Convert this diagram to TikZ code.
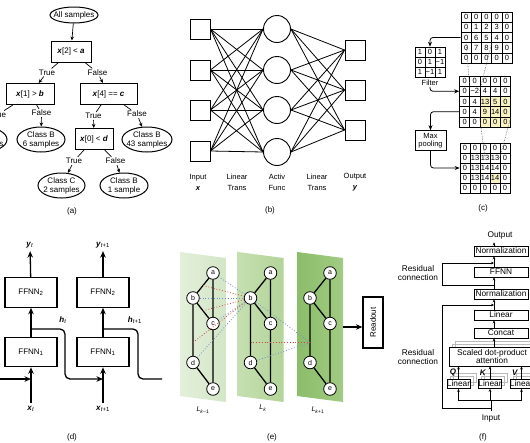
\documentclass[tikz,border=0pt]{standalone}
\usepackage{fontspec}
\setmainfont{Liberation Sans}
\usetikzlibrary{shapes.geometric,arrows.meta,calc}

\newcommand{\bvar}[1]{\textbf{\textit{#1}}}
\definecolor{poolyellow}{HTML}{F8F2C2}
\definecolor{dotred}{HTML}{C9483B}
\definecolor{dotblue}{HTML}{6C8FD2}
\definecolor{layerAl}{HTML}{E3EFDA}
\definecolor{layerAr}{HTML}{D3E6C6}
\definecolor{layerBl}{HTML}{C6DFB1}
\definecolor{layerBr}{HTML}{B3D499}
\definecolor{layerCl}{HTML}{8BBD69}
\definecolor{layerCr}{HTML}{A2CB83}

\begin{document}
\begin{tikzpicture}[x=1pt,y=-1pt,
  every node/.style={font=\fontsize{8}{9}\selectfont},
  leafnode/.style={ellipse,draw,line width=1pt,align=center,inner xsep=-6pt,inner ysep=-1pt,minimum width=48,minimum height=25},
  condbox/.style={rectangle,draw,line width=1pt,minimum height=21,inner sep=1pt},
  lab/.style={inner sep=1pt},
  tarr/.style={-{Stealth[length=4pt,width=3.5pt]},line width=0.7pt},
  sqnode/.style={rectangle,draw,line width=0.9pt,minimum size=20},
  neuron/.style={circle,draw,line width=0.9pt,minimum size=27},
  axlab/.style={align=center,font=\fontsize{7.5}{11}\selectfont},
  gridcell/.style={rectangle,draw,line width=0.6pt,minimum size=10.2,inner sep=0pt,font=\fontsize{7.5}{8}\selectfont},
  carr/.style={-{Stealth[length=5pt,width=4pt]},line width=0.8pt,rounded corners=3},
  simlink/.style={densely dotted,line width=0.6pt,gray!70!black},
  ffnn/.style={rectangle,draw,line width=1.2pt,minimum width=52,minimum height=29.5},
  rarr/.style={-{Stealth[length=6.5pt,width=5.5pt]},line width=1.3pt},
  gnode/.style={circle,draw,fill=white,line width=0.8pt,minimum size=12.6,inner sep=0pt,font=\fontsize{7}{8}\selectfont},
  gedge/.style={line width=1.3pt},
  dotlink/.style={dotted,line width=0.8pt},
  fbox/.style={rectangle,draw,fill=white,line width=0.6pt,minimum width=54,minimum height=10,inner sep=0pt,font=\fontsize{8.3}{9}\selectfont},
  farr/.style={-{Stealth[length=3pt,width=2.6pt]},line width=0.6pt},
  headshadow/.style={draw=gray!55,line width=0.5pt},
]
\useasboundingbox (0,0) rectangle (530,442);
\clip (0,0) rectangle (530,442);
\fill[white] (0,0) rectangle (530,442);

% (a) decision tree
\node[leafnode,minimum height=16,inner ysep=-2pt] (all) at (74,15) {All samples};
\node[condbox,minimum width=40] (t1) at (71,51.5) {\bvar{x}[2] < \bvar{a}};
\node[condbox,minimum width=48] (t2) at (30,94) {\bvar{x}[1] > \bvar{b}};
\node[condbox,minimum width=57] (t3) at (108.5,94) {\bvar{x}[4] == \bvar{c}};
\node[condbox,minimum width=38] (t4) at (94,139) {\bvar{x}[0] < \bvar{d}};
\node[leafnode] (lA) at (-17,139.5) {Class A\\19 samples};
\node[leafnode] (lB6) at (41,139.5) {Class B\\6 samples};
\node[leafnode,minimum width=50] (lB43) at (147,139.5) {Class B\\43 samples};
\node[leafnode,minimum width=47] (lC2) at (61.5,185.5) {Class C\\2 samples};
\node[leafnode] (lB1) at (124,185.5) {Class B\\1 sample};
\node[lab] (t1y) at (47,72.5) {True};
\node[lab] (t1n) at (97.5,72.5) {False};
\node[lab] (t2y) at (-2,114.5) {True};
\node[lab] (t2n) at (41.5,113) {False};
\node[lab] (t3y) at (93.5,116) {True};
\node[lab] (t3n) at (137,114) {False};
\node[lab] (t4y) at (74,161) {True};
\node[lab] (t4n) at (115.5,161) {False};
\draw[tarr] (all) -- (t1);
\foreach \p/\l/\c in {t1/t1y/t2,t1/t1n/t3,t2/t2y/lA,t2/t2n/lB6,t3/t3y/t4,t3/t3n/lB43,t4/t4y/lC2,t4/t4n/lB1}{
  \draw[line width=0.7pt] (\p) -- (\l);
  \draw[tarr] (\l) -- (\c);
}
\node (capa) at (72,211) {(a)};

% (b) feed-forward network
\foreach \i/\y in {1/29,2/70,3/110,4/151}
  \node[sqnode] (in\i) at (200,\y) {};
\foreach \i/\y in {1/29,2/70,3/110,4/152}
  \node[neuron] (hid\i) at (277,\y) {};
\foreach \i/\y in {1/50,2/90,3/130}
  \node[sqnode] (out\i) at (355,\y) {};
\foreach \i in {1,...,4}
  \foreach \j in {1,...,4}
    \draw[line width=0.8pt] (in\i.east) -- (hid\j.west);
\foreach \j in {1,...,4}
  \foreach \k in {1,...,3}
    \draw[line width=0.8pt] (hid\j.east) -- (out\k.west);
\node[axlab] (lbin) at (198,182.5) {Input\\\bvar{x}};
\node[axlab] (lblin1) at (237,182.5) {Linear\\Trans};
\node[axlab] (lbact) at (277,182.5) {Activ\\Func};
\node[axlab] (lblin2) at (317,182.5) {Linear\\Trans};
\node[axlab] (lbout) at (355,182.5) {Output\\\bvar{y}};
\node (capb) at (270,210) {(b)};

% (c) convolution and max pooling
\fill[poolyellow] (479.9,96.4) rectangle (510.5,127);
\fill[poolyellow] (490,173) rectangle (500,183);
\foreach \row [count=\r from 0] in {{0,0,0,0,0},{0,1,2,3,0},{0,6,5,4,0},{0,7,8,9,0},{0,0,0,0,0}}
  \foreach \v [count=\c from 0] in \row
    \node[gridcell] (img-\r-\c) at ({466.1+10.2*\c},{17.1+10.2*\r}) {\v};
\foreach \row [count=\r from 0] in {{1,0,1},{0,1,−1},{1,−1,1}}
  \foreach \v [count=\c from 0] in \row
    \node[gridcell,minimum size=10] (flt-\r-\c) at ({420+10*\c},{52+10*\r}) {\v};
\foreach \row [count=\r from 0] in {{0,0,0,0,0},{0,−2,4,4,0},{0,4,13,5,0},{0,4,9,14,0},{0,0,0,0,0}}
  \foreach \v [count=\c from 0] in \row
    \node[gridcell] (cnv-\r-\c) at ({464.6+10.2*\c},{81.1+10.2*\r}) {\v};
\foreach \row [count=\r from 0] in {{0,0,0,0,0},{0,13,13,13,0},{0,13,14,14,0},{0,13,14,14,0},{0,0,0,0,0}}
  \foreach \v [count=\c from 0] in \row
    \node[gridcell,minimum size=10] (mxp-\r-\c) at ({465+10*\c},{148+10*\r}) {\v};
\node[inner sep=1pt,font=\fontsize{7.5}{8}\selectfont] (fltlab) at (430,83) {Filter};
\node[draw,line width=0.7pt,align=center,inner sep=1pt,minimum width=31,minimum height=20,font=\fontsize{7.5}{8}\selectfont] (pool) at (430.5,140.5) {Max\\pooling};
\draw[carr] (img-2-0.west) -| (flt-0-1.north);
\draw[carr] (fltlab.south) |- (cnv-1-0.west);
\draw[carr] (cnv-3-0.west) -| (pool.north);
\draw[carr] (pool.south) |- (mxp-2-0.west);
\draw[simlink] (img-3-0.north) -- (cnv-1-0.east);
\draw[simlink] (img-3-2.north east) -- (cnv-1-2.west);
\draw[simlink] (cnv-3-2.south west) -- (mxp-1-2.center);
\draw[simlink] (cnv-3-4.south east) -- (mxp-1-4.west);
\node (capc) at (483,208) {(c)};

% (d) recurrent network
\node[ffnn] (f2a) at (31,292.5) {FFNN\textsubscript{2}};
\node[ffnn] (f2b) at (103,292.5) {FFNN\textsubscript{2}};
\node[ffnn] (f1a) at (31,352) {FFNN\textsubscript{1}};
\node[ffnn] (f1b) at (103,352) {FFNN\textsubscript{1}};
\node[inner sep=3pt] (ya) at (30,245) {\bvar{y}\textsubscript{\textit{t}}};
\node[inner sep=3pt] (yb) at (103,245) {\bvar{y}\textsubscript{\textit{t}+1}};
\node[inner sep=3pt] (xa) at (31,409) {\bvar{x}\textsubscript{\textit{t}}};
\node[inner sep=3pt] (xb) at (103,409) {\bvar{x}\textsubscript{\textit{t}+1}};
\node (ha) at (63,320) {\bvar{h}\textsubscript{\textit{t}}};
\node (hb) at (135,320) {\bvar{h}\textsubscript{\textit{t}+1}};
\coordinate (hin) at (-2,379);
\coordinate (ja) at (31,379);
\coordinate (jb) at (103,379);
\coordinate (sa) at (31,329);
\coordinate (sb) at (103,329);
\coordinate (ka) at (65,379);
\coordinate (kb) at (138,379);
\coordinate (hout) at (162,379);
\foreach \s in {a,b}{
  \draw[rarr] (x\s) -- (f1\s);
  \draw[rarr] (f1\s) -- (f2\s);
  \draw[rarr] (f2\s) -- (y\s);
}
\draw[rarr] (hin) -- (ja);
\draw[rarr,rounded corners=5] (sa) -| (ka) -- (jb);
\draw[line width=1.3pt,rounded corners=5] (sb) -| (kb) -- (hout);
\node (capd) at (72,437) {(d)};

% (e) graph layers
\foreach \k/\px/\cl/\cr in {1/180/layerAl/layerAr,2/237.5/layerBl/layerBr,3/297/layerCl/layerCr}{
  \shade[left color=\cl,right color=\cr] (\px,252) -- ++(46,6) -- ++(0,144) -- ++(-46,-6) -- cycle;
  \node[gnode] (a\k) at ({\px+33},273) {a};
  \node[gnode] (b\k) at ({\px+13},298) {b};
  \node[gnode] (c\k) at ({\px+33},323.5) {c};
  \node[gnode] (d\k) at ({\px+13},362.5) {d};
  \node[gnode] (e\k) at ({\px+33},389) {e};
  \draw[gedge] (a\k) -- (b\k) -- (c\k) (a\k) -- (c\k) -- (e\k) -- (d\k) -- (b\k);
}
\coordinate (mab) at ($(a1)!0.5!(b1)$);
\coordinate (mbc) at ($(b1)!0.5!(c1)$);
\coordinate (mbd) at ($(b1)!0.69!(d1)$);
\coordinate (mbd2) at ($(b2)!0.69!(d2)$);
\coordinate (mbd3) at ($(b3)!0.69!(d3)$);
\foreach \n in {a1,b1,c1,d1}
  \draw[dotlink,dotblue] (\n) -- (b2);
\foreach \n in {mab,mbc,mbd}
  \draw[dotlink,dotred] (\n) -- (b2);
\draw[dotlink,dotblue] (b2) -- (mbd3);
\draw[dotlink,dotblue] (d2) -- (mbd3);
\draw[dotlink,dotred] (mbd2) -- (mbd3);
\node[draw,line width=1.2pt,minimum width=51,minimum height=20,rotate=90] (ro) at (373,322.5) {Readout};
\coordinate (p3r) at (343,327);
\draw[rarr] (p3r) -- (p3r -| ro.north);
\node[font=\fontsize{7}{8}\selectfont] (lk0) at (203,410) {\textit{L}\textsubscript{\textit{k}−1}};
\node[font=\fontsize{7}{8}\selectfont] (lk1) at (263,408) {\textit{L}\textsubscript{\textit{k}}};
\node[font=\fontsize{7}{8}\selectfont] (lk2) at (318,410) {\textit{L}\textsubscript{\textit{k}+1}};
\node (cape) at (272,437) {(e)};

% (f) transformer encoder
\foreach \s in {6,3}{
  \draw[headshadow] ({449+\s},{347-\s}) rectangle ++(86,19);
  \foreach \lx in {447,478.5,510}
    \draw[headshadow] ({\lx+\s},{379.5-\s}) rectangle ++(23,9);
  \draw[headshadow] ({494+\s},{341-\s}) -- ++(0,{\s-3});
}
\node[font=\fontsize{8.3}{9}\selectfont] (fout) at (500,235) {Output};
\node[fbox] (norm1) at (501,251) {Normalization};
\node[fbox] (ffn) at (501,272) {FFNN};
\node[fbox] (norm2) at (501,294) {Normalization};
\node[fbox] (lin) at (501,315) {Linear};
\node[fbox] (cat) at (501,333) {Concat};
\node[fbox,minimum width=86,minimum height=19,align=center,font=\fontsize{8.3}{8.5}\selectfont] (att) at (492,356.5) {Scaled dot-product\\attention};
\node[fbox,minimum width=23,minimum height=9] (lq) at (458.5,384) {Linear};
\node[fbox,minimum width=23,minimum height=9] (lk) at (490,384) {Linear};
\node[fbox,minimum width=23,minimum height=9] (lv) at (521.5,384) {Linear};
\node[inner sep=1pt] (vq) at (453,372.5) {\bvar{Q}};
\node[inner sep=1pt] (vk) at (483,372.5) {\bvar{K}};
\node[inner sep=1pt] (vv) at (515,372.5) {\bvar{V}};
\node[font=\fontsize{8.3}{9}\selectfont] (fin) at (491,418) {Input};
\node[align=center,font=\fontsize{8.3}{9}\selectfont] (res1) at (418,273) {Residual\\connection};
\node[align=center,font=\fontsize{8.3}{9}\selectfont] (res2) at (418,357.5) {Residual\\connection};
\coordinate (col) at (494,0);
\draw[farr] (norm1.north -| col) -- (fout.south -| col);
\draw[farr] (ffn.north -| col) -- (norm1.south -| col);
\draw[farr] (norm2.north -| col) -- (ffn.south -| col);
\draw[farr] (lin.north -| col) -- (norm2.south -| col);
\draw[farr] (cat.north -| col) -- (lin.south -| col);
\draw[farr] (att.north -| col) -- (cat.south -| col);
\coordinate (r1s) at (494,285);
\coordinate (rt1) at (442,263);
\draw[farr] (r1s) -| (rt1) -- (rt1 -| col);
\coordinate (split) at (491,400);
\coordinate (r2s) at (491,408);
\coordinate (rb1) at (442,305);
\draw[farr] (r2s) -| (rb1) -- (rb1 -| col);
\draw[line width=0.6pt] (fin) -- (split);
\draw[farr] (split) -| (lq.south);
\draw[farr] (split) -- (split -| lk.south) -- (lk.south);
\draw[farr] (split) -| (lv.south);
\foreach \h in {lq,lk,lv}
  \draw[farr] (\h.north) -- (\h.north |- att.south);
\node (capf) at (483,437) {(f)};
\end{tikzpicture}
\end{document}
